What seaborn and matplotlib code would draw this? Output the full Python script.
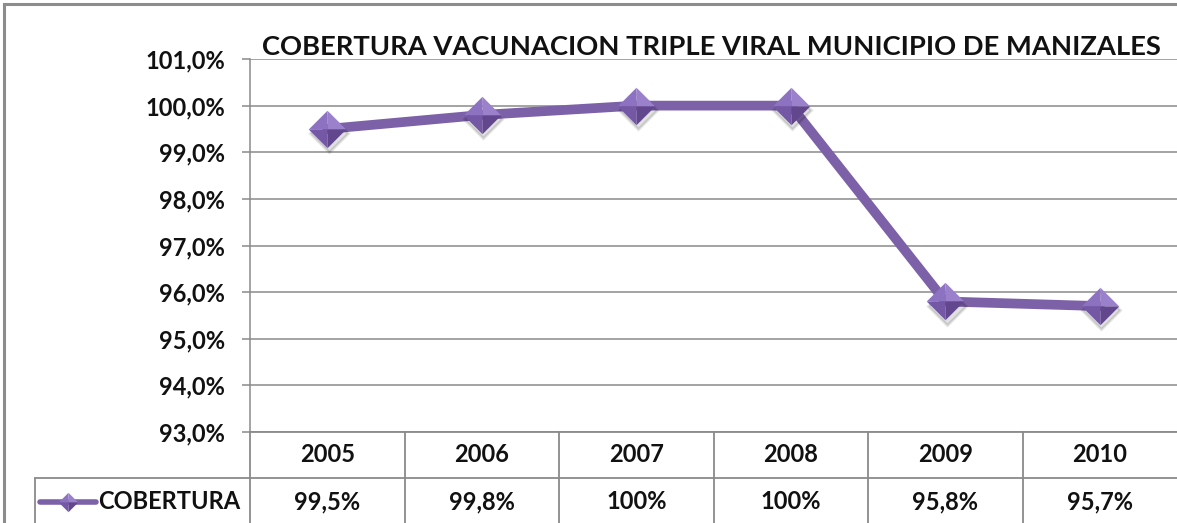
import numpy as np
import matplotlib
matplotlib.use("Agg")
import matplotlib.pyplot as plt
import matplotlib.transforms as mtransforms
from matplotlib.patches import Rectangle
from matplotlib.ticker import FuncFormatter
import seaborn as sns
import pandas as pd

years = ["2005", "2006", "2007", "2008", "2009", "2010"]
cobertura = [99.5, 99.8, 100.0, 100.0, 95.8, 95.7]
series_name = "COBERTURA"
title = "COBERTURA VACUNACION TRIPLE VIRAL MUNICIPIO DE MANIZALES"
y_ticks = [93, 94, 95, 96, 97, 98, 99, 100, 101]

W, H = 1177, 523
PURPLE = "#7d61a8"
GRID = "#8a8a8a"
FACETS = ["#8e72c2", "#9b80cc", "#7458a6", "#62478f"]
FS = 17

sns.set_theme(style="white")
plt.rcParams["font.family"] = ["Lato", "DejaVu Sans"]
plt.rcParams["font.weight"] = "bold"

df = pd.DataFrame({"year": years, "cobertura": cobertura})

fig = plt.figure(figsize=(W / 100, H / 100), dpi=100)
fig.patch.set_facecolor("white")

px_l, px_r, px_t, px_b = 250, 1177, 59, 432
ax = fig.add_axes([px_l / W, 1 - px_b / H, (px_r - px_l) / W, (px_b - px_t) / H])

sns.lineplot(data=df, x="year", y="cobertura", ax=ax, color=PURPLE,
             linewidth=7, sort=False, zorder=3)

# 3D-ish diamond markers built from four facets
x_pos = np.arange(len(years))
facet_verts = [
    [(0, 0), (-1, 0), (0, 1)],   # top-left
    [(0, 0), (0, 1), (1, 0)],    # top-right
    [(0, 0), (-1, 0), (0, -1)],  # bottom-left
    [(0, 0), (0, -1), (1, 0)],   # bottom-right
]
ms = 27
shadow = mtransforms.offset_copy(ax.transData, fig=fig, x=1, y=-3, units="points")
ax.plot(x_pos, cobertura, linestyle="none", marker="D", markersize=ms / 1.414,
        color="#000000", alpha=0.12, markeredgewidth=2,
        markeredgecolor="#00000010", transform=shadow, zorder=4)
for verts, c in zip(facet_verts, FACETS):
    ax.plot(x_pos, cobertura, linestyle="none", marker=verts, markersize=ms,
            color=c, markeredgewidth=0, zorder=5)

ax.set_xlim(-0.5, len(years) - 0.5)
ax.set_ylim(93, 101)
ax.set_yticks(y_ticks)
ax.yaxis.set_major_formatter(FuncFormatter(lambda v, p: f"{v:.1f}%".replace(".", ",")))
ax.set_xticks([])
ax.set_xlabel("")
ax.set_ylabel("")
ax.grid(axis="y", color=GRID, linewidth=1.1)
ax.set_axisbelow(True)
for s in ["top", "right", "bottom"]:
    ax.spines[s].set_visible(False)
ax.spines["left"].set_color(GRID)
ax.spines["left"].set_linewidth(1.1)
ax.tick_params(axis="y", left=True, length=6, width=1.1, color=GRID,
               labelsize=FS, pad=12, labelcolor="#111111")

fig.text(711 / W, 1 - 47 / H, title, ha="center", va="center",
         fontsize=19.7, fontweight="bold", color="#111111")

# data table below the plot
tab = fig.add_axes([px_l / W, 0, (px_r - px_l) / W, (H - px_b) / H])
tab.set_xlim(-0.5, len(years) - 0.5)
tab.set_ylim(0, H - px_b)
tab.axis("off")
col_w = (px_r - px_l) / len(years)
row1 = H - px_b - 46
lw = 1.3
tab.axhline(H - px_b, color=GRID, lw=lw, clip_on=False)
legend_left = -0.5 - (px_l - 35) / col_w
tab.plot([legend_left, len(years) - 0.5], [row1, row1], color=GRID, lw=lw, clip_on=False)
tab.plot([legend_left, legend_left], [row1, -5], color=GRID, lw=lw, clip_on=False)
for i in range(len(years)):
    tab.plot([i - 0.5, i - 0.5], [H - px_b, -5], color=GRID, lw=lw, clip_on=False)
for i, (yr, v) in enumerate(zip(years, cobertura)):
    tab.text(i, (H - px_b + row1) / 2, yr, ha="center", va="center",
             fontsize=FS, fontweight="bold", color="#111111")
    tab.text(i, row1 / 2 - 1, f"{v:g}%".replace(".", ","), ha="center", va="center",
             fontsize=FS, fontweight="bold", color="#111111")

# legend key inside first cell
key_x0 = -0.5 - (px_l - 40) / col_w
key_x1 = -0.5 - (px_l - 96) / col_w
key_y = row1 / 2 - 1
tab.plot([key_x0, key_x1], [key_y, key_y], color=PURPLE, lw=4, clip_on=False)
for verts, c in zip(facet_verts, FACETS):
    tab.plot([(key_x0 + key_x1) / 2], [key_y], linestyle="none", marker=verts,
             markersize=14, color=c, markeredgewidth=0, clip_on=False)
tab.text(-0.5 - (px_l - 98) / col_w, key_y, series_name, ha="left", va="center",
         fontsize=FS, fontweight="bold", color="#111111")

# outer chart border
fig.add_artist(Rectangle((4 / W, -0.05), 1.05, 1 - 4 / H + 0.05,
                         transform=fig.transFigure, fill=False,
                         edgecolor="#8c8c8c", linewidth=2.2))

fig.savefig("out.png", dpi=100)
